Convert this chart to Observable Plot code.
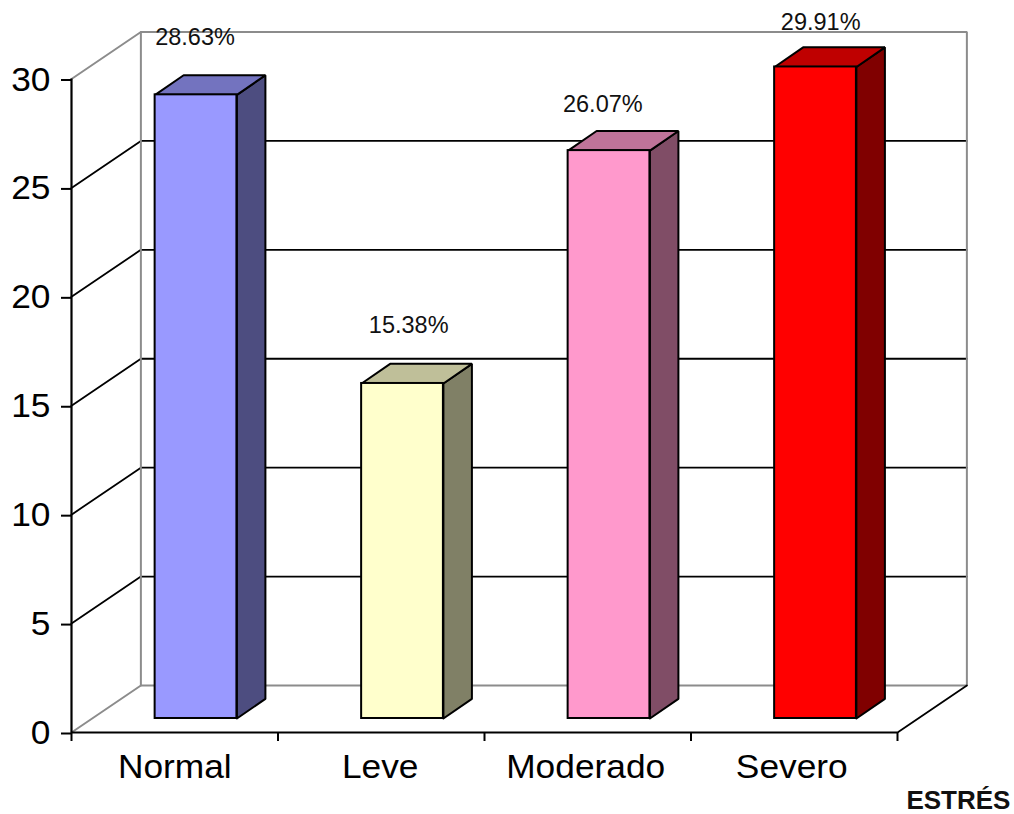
<!DOCTYPE html>
<html>
<head>
<meta charset="utf-8">
<script src="https://cdn.jsdelivr.net/npm/d3@7"></script>
<script src="https://cdn.jsdelivr.net/npm/@observablehq/plot@0.6"></script>
<style>html,body{margin:0;padding:0;background:#fff}svg{display:block}</style>
</head>
<body>
<div id="chart"></div>
<script>
const categories = ["Normal", "Leve", "Moderado", "Severo"];
const values = [28.63, 15.38, 26.07, 29.91];
const yTicks = [0, 5, 10, 15, 20, 25, 30];
const gridValues = [5, 10, 15, 20, 25];
const frontColors = ["#9999FF", "#FFFFCC", "#FF99CC", "#FF0000"];
const sideColors = ["#4D4D80", "#808066", "#804D66", "#800000"];
const topColors = ["#7373BF", "#BFBF99", "#BF7399", "#BF0000"];
const axisTitle = "ESTRÉS";

// pseudo-3D depth expressed in data units
const wallDx = 0.336, wallDy = 2.158;
const barDx = 0.138, barDy = 0.9, barBase = 0.643;
const barStart = 0.405, barWidth = 0.396;
const xMax = categories.length;
const labelShift = [-0.005, 0.03, -0.03, 0.025];
const labelLift = [2.3, 2.3, 1.75, 1.7];
const categoryShift = [0, -0.005, -0.01, -0.012];

const wallStroke = "#8c8c8c";
const font = "'Liberation Sans', Arial, sans-serif";

const stretch = (k) => function (index, scales, values, dims, ctx, next) {
  const g = next(index, scales, values, dims, ctx);
  g.querySelectorAll("text").forEach((t) => {
    t.setAttribute("transform", (t.getAttribute("transform") || "") + ` scale(${k},1)`);
  });
  return g;
};

const poly = (pts, fill) => Plot.line([...pts, pts[0]], {
  x: "0", y: "1", fill, stroke: "black", strokeWidth: 2, strokeLinejoin: "miter", curve: "linear"
});
const seg = (pts, stroke, strokeWidth) => Plot.line(pts, {
  x: "0", y: "1", stroke, strokeWidth, strokeLinejoin: "miter"
});

const rows = categories.map((name, i) => {
  const x1 = i + barStart, x2 = x1 + barWidth;
  return {name, value: values[i], x1, x2, y1: barBase, y2: barBase + values[i], front: frontColors[i], side: sideColors[i], top: topColors[i],
    label: values[i].toFixed(2) + "%", lx: (x1 + x2) / 2 + labelShift[i], ly: barBase + values[i] + labelLift[i], cx: i + 0.5 + categoryShift[i]};
});

const grid = gridValues.map((v) => seg([[0, v], [wallDx, v + wallDy], [xMax + wallDx, v + wallDy]], "black", 1.8));

const walls = [
  seg([[0, 0], [wallDx, wallDy], [xMax + wallDx, wallDy], [xMax + wallDx, 30 + wallDy], [wallDx, 30 + wallDy], [0, 30]], wallStroke, 2),
  seg([[wallDx, wallDy], [wallDx, 30 + wallDy]], wallStroke, 2),
  seg([[xMax, 0], [xMax + wallDx, wallDy]], "black", 1.8)
];

const bars = rows.flatMap((d) => [
  poly([[d.x2, d.y1], [d.x2 + barDx, d.y1 + barDy], [d.x2 + barDx, d.y2 + barDy], [d.x2, d.y2]], d.side),
  poly([[d.x1, d.y2], [d.x1 + barDx, d.y2 + barDy], [d.x2 + barDx, d.y2 + barDy], [d.x2, d.y2]], d.top),
  Plot.rect([d], {x1: "x1", x2: "x2", y1: "y1", y2: "y2", fill: d.front, stroke: "black", strokeWidth: 2})
]);

const chart = Plot.plot({
  width: 1014,
  height: 814,
  marginLeft: 71,
  marginRight: 117,
  marginTop: 78.5,
  marginBottom: 82,
  style: {fontFamily: font, background: "#fff", overflow: "visible"},
  x: {type: "linear", domain: [0, xMax]},
  y: {domain: [0, 30]},
  marks: [
    ...grid,
    ...walls,
    Plot.axisX({ticks: d3.range(0, xMax + 1), tickFormat: () => "", tickSize: 9, strokeWidth: 2, stroke: "black", label: null}),
    Plot.axisY({ticks: yTicks, tickSize: 10, tickPadding: 11, fontSize: 33, dy: 1, strokeWidth: 2, stroke: "black", fill: "black", label: null}),
    Plot.ruleX([0], {y1: 0, y2: 30, stroke: "black", strokeWidth: 2.2}),
    Plot.ruleY([0], {x1: 0, x2: xMax, stroke: "black", strokeWidth: 2.2}),
    ...bars,
    Plot.text(rows, {x: "lx", y: "ly", text: "label", fontSize: 23.5, fill: "#111", textAnchor: "middle", lineAnchor: "bottom"}),
    Plot.text(rows, {x: "cx", y: -2.11, text: "name", fontSize: 33, fill: "black", textAnchor: "middle", lineAnchor: "bottom", render: stretch(1.07)}),
    Plot.text([axisTitle], {x: 4.295, y: -3.5, text: (d) => d, fontSize: 26, fontWeight: "bold", fill: "#111", textAnchor: "middle", lineAnchor: "bottom"})
  ]
});
chart.querySelectorAll('g[aria-label="y-axis tick label"] text').forEach((t) => {
  t.setAttribute("transform", (t.getAttribute("transform") || "") + " scale(1.07,1)");
});
document.getElementById("chart").append(chart);
</script>
</body>
</html>
